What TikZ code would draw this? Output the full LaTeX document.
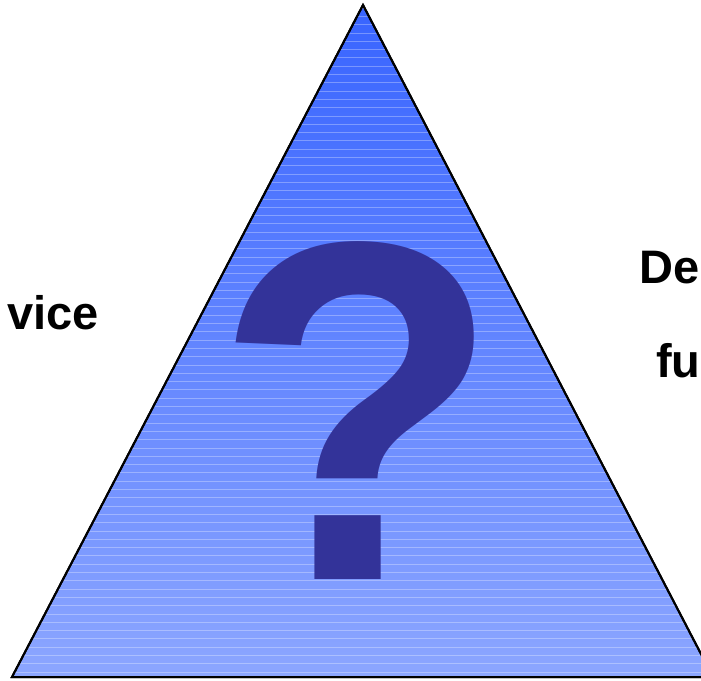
\documentclass[tikz,border=0pt]{standalone}
\usepackage{fontspec}
\setmainfont{Liberation Sans}
\definecolor{tritop}{RGB}{56,100,255}
\definecolor{tribot}{RGB}{140,166,255}
\definecolor{qblue}{RGB}{51,51,153}

\begin{document}
\begin{tikzpicture}[x=1pt, y=-1pt]

% --- Define Styles ---
\tikzset{
    tri/.style={top color=tritop, bottom color=tribot, draw=black, line width=2pt, line join=miter},
    stripe/.style={white, opacity=0.3, line width=1pt},
    qmark/.style={anchor=base, inner sep=0pt, text=qblue, xscale=0.97,
                  font=\bfseries\fontsize{484}{484}\selectfont},
    side/.style={inner sep=0pt, text=black, font=\bfseries\fontsize{47}{47}\selectfont}
}

\useasboundingbox (0,0) rectangle (701,680);

% ================= TRIANGLE =================
\coordinate (apex) at (363,5);
\coordinate (bl) at (12,677);
\coordinate (br) at (713,677);
\shade[tri] (apex) -- (bl) -- (br) -- cycle;
\begin{scope}
    \clip (apex) -- (bl) -- (br) -- cycle;
    \foreach \k in {0,...,81}
        \draw[stripe] (0,8.1+8.3*\k) -- (720,8.1+8.3*\k);
\end{scope}
\draw[line width=2pt, line join=miter] (apex) -- (bl) -- (br) -- cycle;

% ================= QUESTION MARK =================
\node[qmark] (qm) at (358,579) {?};

% ================= SIDE LABELS =================
\node[side, anchor=base east] (lefttxt) at (99,329) {vice};
\node[side, anchor=base west] (detxt) at (639,283) {De};
\node[side, anchor=base west] (futxt) at (656,377) {fu};

\end{tikzpicture}
\end{document}
